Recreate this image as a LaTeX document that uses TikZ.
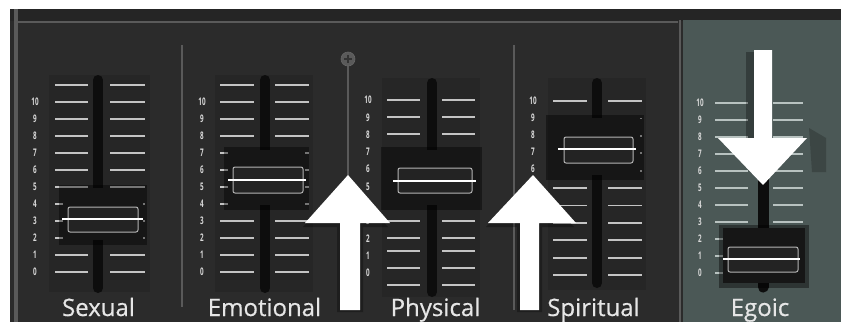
\documentclass[tikz,border=0pt]{standalone}
\usepackage{fontspec}
\setmainfont{Open Sans}
\newfontfamily\chanfont[FakeBold=0.5]{Open Sans}
\newfontfamily\numfont[FakeStretch=0.6]{Open Sans}
\definecolor{bgc}{HTML}{2B2B2B}
\definecolor{bandc}{HTML}{252525}
\definecolor{linec}{HTML}{5A5A5A}
\definecolor{tickc}{HTML}{C4C4C4}
\definecolor{numc}{HTML}{DADADA}
\definecolor{labc}{HTML}{E6E6E6}
\definecolor{knobc}{HTML}{161616}
\definecolor{capfill}{HTML}{232323}
\definecolor{capc}{HTML}{B4B4B4}
\definecolor{panelc}{HTML}{4B5856}
\definecolor{areac}{HTML}{262626}
\definecolor{ptickc}{HTML}{B8C2C0}
\begin{document}
\begin{tikzpicture}[x=1pt,y=-1pt,
  tickln/.style={draw=tickc, line width=1.8pt},
  ptickln/.style={draw=ptickc, line width=1.8pt},
  numlbl/.style={text=numc, font=\numfont\fontsize{10.5}{10.5}\selectfont\bfseries, inner sep=0pt},
  chan/.style={text=labc, font=\chanfont\fontsize{24}{24}\selectfont, inner sep=0pt, anchor=base},
  slotln/.style={draw=black!95, line width=10pt, line cap=round},
  knobbox/.style={fill=knobc},
  knobshadow/.style={fill=black, opacity=0.4},
  capbox/.style={draw=capc, line width=1pt, rounded corners=2pt, fill=capfill},
  capline/.style={draw=white, line width=1.8pt},
  bigarrow/.style={fill=white},
  arrowshadow/.style={fill=black, opacity=0.3},
  divider/.style={draw=linec, line width=2pt}]
\useasboundingbox (0,0) rectangle (841,322);
% background
\fill[white] (0,0) rectangle (841,322);
\fill[bgc] (10,9) rectangle (841,322);
\fill[bandc] (10,9) rectangle (841,21);
\draw[linec, line width=2pt] (18,22) -- (678,22);
\draw[linec, line width=4pt] (15.5,9) -- (15.5,322);
% Egoic panel
\fill[panelc] (683,20) rectangle (841,322);
\draw[linec, line width=2.5pt] (680,20) -- (680,322);
% darker tick areas
\fill[areac] (49,75) rectangle (150,292);
\fill[areac] (215,75) rectangle (313,292);
\fill[areac] (382,78) rectangle (480,297);
\fill[areac] (548,78) rectangle (646,290);
% dividers and screw
\draw[divider] (182,45) -- (182,307);
\draw[divider] (348,66) -- (348,310);
\draw[divider] (514,45) -- (514,310);
\node[circle, fill=linec, draw=black!60, line width=0.6pt, minimum size=14pt, inner sep=0pt] (screw) at (348,59) {};
\draw[black!80, line width=1.4pt] (344,59) -- (352,59) (348,55) -- (348,63);

% ---------- Sexual ----------
\foreach \y in {85,102,...,272} {\draw[tickln] (55,\y) -- (88,\y); \draw[tickln] (110,\y) -- (145,\y);}
\foreach \n [count=\i from 0] in {10,9,8,7,6,5,4,3,2,1,0} \node[numlbl] (sx\n) at (35,102+17*\i) {\n};
\draw[slotln] (98,80) -- (98,288);
\fill[knobshadow] (59,185) rectangle (147,245);
\fill[knobbox] (63,188) rectangle (143,240);
\draw[capbox] (68,207) rectangle (138,232);
\draw[capline] (62,219) -- (143,219);

% ---------- Emotional ----------
\foreach \y in {85,102,...,272} {\draw[tickln] (220,\y) -- (254,\y); \draw[tickln] (275,\y) -- (309,\y);}
\foreach \n [count=\i from 0] in {10,9,8,7,6,5,4,3,2,1,0} \node[numlbl] (em\n) at (202,102+17*\i) {\n};
\draw[slotln] (265,80) -- (265,288);
\fill[knobshadow] (224,147) rectangle (309,210);
\fill[knobbox] (228,150) rectangle (305,205);
\draw[capbox] (233,167) rectangle (303,193);
\draw[capline] (228,180) -- (306,180);

% ---------- Physical ----------
\foreach \y in {100,117,134,151,221,238,251,268,285} {\draw[tickln] (387,\y) -- (420,\y); \draw[tickln] (442,\y) -- (475,\y);}
\foreach \n [count=\i from 0] in {10,9,8,7,6,5,4,3,2,1,0} \node[numlbl] (ph\n) at (368,100+17.3*\i) {\n};
\draw[slotln] (432,83) -- (432,292);
\fill[knobshadow] (381,147) rectangle (482,210);
\fill[knobbox] (385,150) rectangle (478,205);
\draw[capbox] (398,168) rectangle (472,193);
\draw[capline] (393,181) -- (476,181);

% ---------- Spiritual ----------
\foreach \i in {0,...,10} {\draw[tickln] (553,101+17.4*\i) -- (587,101+17.4*\i); \draw[tickln] (608,101+17.4*\i) -- (642,101+17.4*\i);}
\foreach \n [count=\i from 0] in {10,9,8,7,6,5,4,3,2,1,0} \node[numlbl] (sp\n) at (533,101+17*\i) {\n};
\draw[slotln] (597,83) -- (597,283);
\fill[knobshadow] (546,115) rectangle (644,180);
\fill[knobbox] (550,118) rectangle (640,175);
\draw[capbox] (564,137) rectangle (633,163);
\draw[capline] (558,149) -- (636,149);

% ---------- Egoic ----------
\foreach \i in {0,...,10} {\draw[ptickln] (715,103+17*\i) -- (748,103+17*\i); \draw[ptickln] (773,103+17*\i) -- (803,103+17*\i);}
\foreach \n [count=\i from 0] in {10,9,8,7,6,5,4,3,2,1,0} \node[numlbl] (eg\n) at (700,103+17*\i) {\n};
\draw[slotln, line width=11pt] (763,90) -- (763,287);
\fill[knobshadow] (719,225) rectangle (809,288);
\fill[knobbox] (723,228) rectangle (805,283);
\draw[capbox] (728,247) rectangle (798,272);
\draw[capline] (723,259) -- (800,259);

% ---------- arrows ----------
\fill[arrowshadow] (746,52) -- (754,52) -- (754,138) -- (746,138) -- cycle;
\fill[black, opacity=0.2] (809,128) -- (826,138) -- (826,172) -- (812,172) -- cycle;
\fill[bigarrow] (754,50) -- (772,50) -- (772,138) -- (807,138) -- (763,185) -- (718,138) -- (754,138) -- cycle;
\fill[arrowshadow] (346,178) -- (388,227) -- (363,227) -- (363,312) -- (337,312) -- (337,227) -- (303,227) -- cycle;
\fill[bigarrow] (348,175) -- (390,223) -- (360,223) -- (360,310) -- (340,310) -- (340,223) -- (305,223) -- cycle;
\fill[arrowshadow] (531,178) -- (574,227) -- (542,227) -- (542,312) -- (517,312) -- (517,227) -- (486,227) -- cycle;
\fill[bigarrow] (533,175) -- (576,223) -- (539,223) -- (539,310) -- (520,310) -- (520,223) -- (488,223) -- cycle;

% ---------- channel names ----------
\node[chan] (sexual) at (98.5,316) {Sexual};
\node[chan] (emotional) at (264.5,316) {Emotional};
\node[chan] (physical) at (435.5,316) {Physical};
\node[chan] (spiritual) at (593.5,316) {Spiritual};
\node[chan] (egoic) at (760,316) {Egoic};
\end{tikzpicture}
\end{document}
